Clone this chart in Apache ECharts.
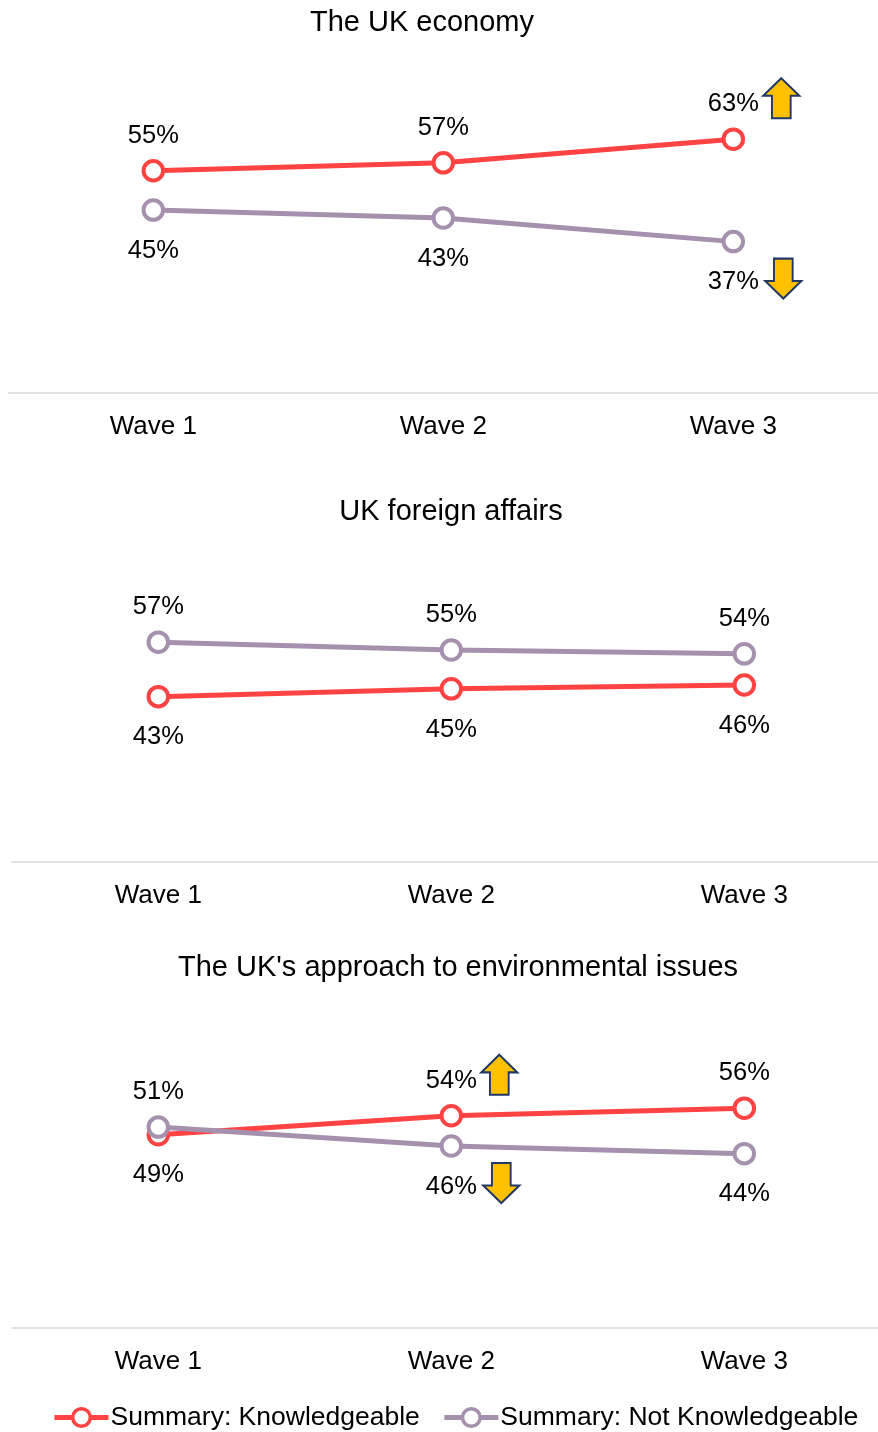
<!DOCTYPE html>
<html>
<head>
<meta charset="utf-8">
<style>
  html, body { margin: 0; padding: 0; background: #fff; }
  #chart { width: 878px; height: 1432px; }
</style>
<script src="https://cdn.jsdelivr.net/npm/echarts@6/dist/echarts.min.js"></script>
</head>
<body>
<div id="chart"></div>
<script>
// Survey waves shown on each panel's category axis
const waves = ['Wave 1', 'Wave 2', 'Wave 3'];

// One panel per topic
const panelTitles = [
  'The UK economy',
  'UK foreign affairs',
  "The UK's approach to environmental issues"
];

// Share of respondents (%) per wave, one row per panel
const knowledgeable = [
  [55, 57, 63],
  [43, 45, 46],
  [49, 54, 56]
];
const notKnowledgeable = [
  [45, 43, 37],
  [57, 55, 54],
  [51, 46, 44]
];

const seriesNames = ['Summary: Knowledgeable', 'Summary: Not Knowledgeable'];

// Statistically significant changes flagged with an arrow
const sigChanges = [
  { panel: 0, series: 0, wave: 2, dir: 'up' },
  { panel: 0, series: 1, wave: 2, dir: 'down' },
  { panel: 2, series: 0, wave: 1, dir: 'up' },
  { panel: 2, series: 1, wave: 1, dir: 'down' }
];

// ---- layout & styling ----
const FONT = 'Liberation Sans, Arial, sans-serif';
const COLORS = ['#FF4343', '#A590AE'];
const grids = [
  { left: 8.3, width: 870, top: 72.2, height: 315.2, axisOffset: 5.6 },
  { left: 11.8, width: 879, top: 552.7, height: 311.2, axisOffset: -1.9 },
  { left: 11.8, width: 879, top: 1017.2, height: 303.2, axisOffset: 7.6 }
];
const titlePos = [
  { x: 422, y: 8 },
  { x: 451, y: 497 },
  { x: 458, y: 953 }
];
const ARROW_UP = 'path://M50,0 L100,44 L76,44 L76,100 L24,100 L24,44 L0,44 Z';
const ARROW_DOWN = 'path://M24,0 L76,0 L76,56 L100,56 L50,100 L0,56 L24,56 Z';
const arrowOffset = { up: [48, -41], down: [50, 37] };

const rows = [knowledgeable, notKnowledgeable];

const option = {
  animation: false,
  backgroundColor: '#ffffff',
  textStyle: { fontFamily: FONT },
  title: panelTitles.map((t, i) => ({
    text: t,
    left: titlePos[i].x,
    top: titlePos[i].y,
    textAlign: 'center',
    padding: 0,
    textStyle: { fontFamily: FONT, fontSize: 29, fontWeight: 'normal', color: '#000' }
  })),
  legend: {
    left: 52,
    top: 1404,
    itemWidth: 54,
    itemHeight: 22,
    itemGap: 22,
    padding: 0,
    data: seriesNames,
    lineStyle: { width: 5 },
    itemStyle: { borderWidth: 3.5 },
    textStyle: { fontFamily: FONT, fontSize: 26.5, color: '#000', padding: [0, 0, 0, -3] }
  },
  grid: grids.map(g => ({
    left: g.left, width: g.width, top: g.top, height: g.height,
    containLabel: false, outerBoundsMode: 'none'
  })),
  xAxis: grids.map((g, i) => ({
    type: 'category',
    gridIndex: i,
    data: waves,
    boundaryGap: true,
    offset: g.axisOffset,
    axisLine: { onZero: false, lineStyle: { color: '#D9D9D9', width: 1.5 } },
    axisTick: { show: false },
    axisLabel: { fontFamily: FONT, fontSize: 26, color: '#000', margin: 21 },
    splitLine: { show: false }
  })),
  yAxis: grids.map((g, i) => ({
    type: 'value',
    gridIndex: i,
    min: 0,
    max: 80,
    show: false,
    splitLine: { show: false }
  })),
  series: []
};

for (let p = 0; p < panelTitles.length; p++) {
  for (let s = 0; s < 2; s++) {
    const own = rows[s][p];
    const other = rows[1 - s][p];
    const data = own.map((v, w) => {
      const above = v >= other[w];
      return {
        value: v,
        label: { position: above ? 'top' : 'bottom', distance: above ? 10 : 16 }
      };
    });
    const marks = sigChanges
      .filter(c => c.panel === p && c.series === s)
      .map(c => ({
        coord: [waves[c.wave], own[c.wave]],
        symbol: c.dir === 'up' ? ARROW_UP : ARROW_DOWN,
        symbolSize: [36, 40],
        symbolKeepAspect: false,
        symbolOffset: arrowOffset[c.dir],
        itemStyle: { color: '#FFC000', borderColor: '#1F3864', borderWidth: 2 },
        label: { show: false }
      }));
    option.series.push({
      name: seriesNames[s],
      type: 'line',
      xAxisIndex: p,
      yAxisIndex: p,
      data: data,
      symbol: 'circle',
      symbolSize: 19.5,
      showAllSymbol: true,
      lineStyle: { color: COLORS[s], width: 5 },
      itemStyle: { color: '#FFFFFF', borderColor: COLORS[s], borderWidth: 4 },
      label: {
        show: true,
        formatter: '{c}%',
        fontFamily: FONT,
        fontSize: 25.5,
        color: '#000'
      },
      emphasis: { disabled: true },
      markPoint: marks.length ? { silent: true, animation: false, data: marks } : undefined,
      z: 2 + s
    });
  }
}

const chart = echarts.init(document.getElementById('chart'), null, { renderer: 'canvas' });
chart.setOption(option);
</script>
</body>
</html>
